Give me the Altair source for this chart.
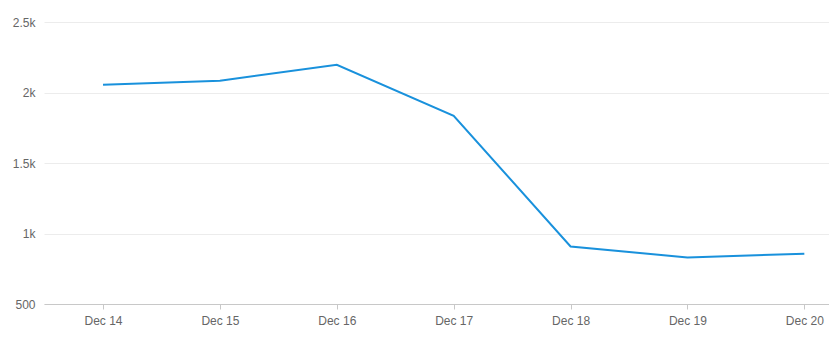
import altair as alt
import pandas as pd

days = [14, 15, 16, 17, 18, 19, 20]
values = [2055, 2084, 2197, 1835, 908, 830, 857]
y_ticks = [500, 1000, 1500, 2000, 2500]

df = pd.DataFrame({"day": days, "value": values})

chart = alt.Chart(df).mark_line(color="#1991dc", strokeWidth=2).encode(
    x=alt.X("day:Q",
            scale=alt.Scale(domain=[13.495, 20.211], nice=False, zero=False),
            axis=alt.Axis(values=days, labelExpr="'Dec ' + datum.value",
                          title=None, grid=False, domainColor="#c8c8c8",
                          tickColor="#c8c8c8", tickSize=5, labelPadding=6,
                          labelFontSize=12, labelColor="#666666",
                          labelFont="Liberation Sans")),
    y=alt.Y("value:Q",
            scale=alt.Scale(domain=[500, 2500], nice=False, zero=False),
            axis=alt.Axis(values=y_ticks,
                          labelExpr="datum.value >= 1000 ? format(datum.value/1000, '~g') + 'k' : datum.value",
                          title=None, domain=False, ticks=False, labelPadding=9,
                          gridColor="#ececec", labelFontSize=12,
                          labelColor="#666666", labelFont="Liberation Sans")),
).properties(
    width=785, height=282,
    autosize=alt.AutoSizeParams(type="none"),
    padding={"left": 36, "top": 14, "right": 0, "bottom": 34},
).configure_view(stroke=None)

chart.save("out.html", embed_options={"renderer": "svg", "actions": False})
